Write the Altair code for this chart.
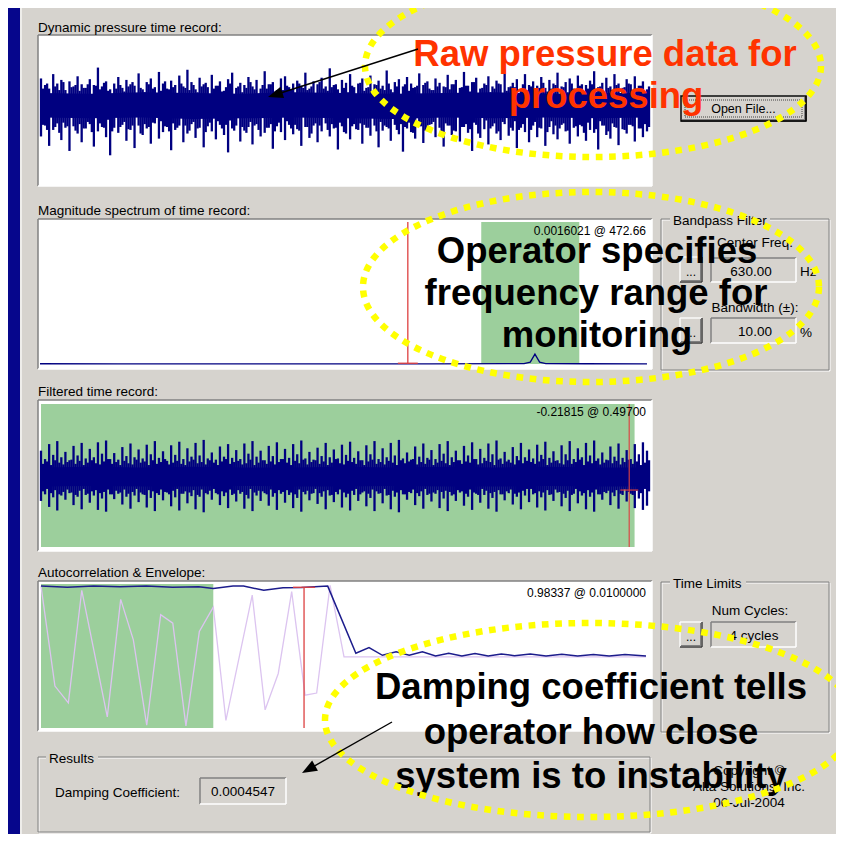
import math
import altair as alt
import pandas as pd

OFF = 8
W, H = 828, 826
FONT = "Liberation Sans"
BG = "#D6D3CE"
NAVY = "#000080"
GREEN = "#9CCF9C"
RED = "#DD4040"
YEL = "#FFFF00"

# ---------------- data ----------------
REC_LEN = 0.512  # s
# raw record: per-column peak (hi) and trough (lo), hundredths of full scale
raw_hi = [38,29,24,44,31,36,22,34,27,41,30,25,37,29,53,27,34,23,31,40,
          25,36,30,28,45,23,33,38,26,47,31,24,35,29,42,27,50,33,23,39,
          30,26,43,28,34,21,37,46,25,32,29,40,27,36,24,48,30,33,22,38,
          41,26,31,35,28,46,24,34,30,39,27,52,29,23,36,32,44,26,31,38,
          25,42,30,35,28,49,23,33,37,27,40,31,26,45,29,34,22,38,32,27,
          43,30,36,25,47,28,33,39,24,31,41,27,35,30,50,26,32,37,23,44,
          29,34,28,40,25,36,31,46,27,33,38,24,42,30,29,35,48,26,32,39,
          27,44,31,25,37,30,41,28,34,23]
raw_lo = [-42,-27,-55,-33,-24,-47,-30,-62,-28,-38,-50,-31,-25,-56,-35,-29,-43,-68,-30,-37,
          -26,-48,-33,-58,-27,-40,-31,-52,-24,-45,-36,-29,-61,-33,-27,-50,-38,-25,-44,-30,
          -57,-28,-35,-46,-26,-40,-64,-31,-27,-49,-34,-29,-53,-25,-42,-37,-30,-59,-28,-36,
          -47,-26,-39,-32,-55,-29,-44,-27,-50,-35,-24,-42,-31,-60,-28,-38,-46,-25,-33,-52,
          -30,-41,-27,-57,-34,-29,-48,-26,-39,-63,-31,-36,-45,-28,-51,-33,-25,-43,-30,-56,
          -27,-40,-35,-49,-29,-37,-62,-26,-44,-32,-53,-28,-38,-47,-25,-41,-34,-58,-30,-36,
          -50,-27,-43,-31,-55,-29,-39,-46,-26,-35,-52,-30,-42,-28,-48,-33,-37,-60,-27,-40,
          -45,-29,-54,-32,-38,-26,-49,-31,-43,-35]
# in-between columns
raw_hi2 = [24,31,12,27,22,33,10,26,29,21,25,30,13,28,23,32,21,11,24,29,
           20,27,33,14,25,19,30,24,10,21,34,23,26,12,31,25,22,29,19,27,
           32,11,24,28,20,26,31,13,27,19,25,33,23,10,29,24,30,20,12,22,
           28,23,14,31,25,22,27,11,33,24,21,26,30,13,25,19,28,10,32,21,
           26,12,29,24,22,31,19,27,11,30,21,25,28,14,32,24,22,27,10,26,
           23,30,13,26,28,20,33,11,25,29,19,24,31,12,21,27,26,14,30,22,
           27,10,25,32,20,24,29,13,26,19,31,23,28,11,24,30,20,27,12,25,
           22,29,14,26,31,10,24,28,20,27]
raw_lo2 = [-26,-33,-12,-29,-37,-23,-28,-11,-34,-25,-31,-22,-36,-13,-24,-30,-19,-35,-10,-29,
           -22,-32,-27,-12,-38,-25,-29,-23,-14,-21,-28,-35,-24,-30,-11,-27,-34,-22,-31,-13,
           -36,-23,-10,-21,-31,-26,-20,-34,-12,-29,-37,-22,-27,-33,-11,-30,-25,-35,-23,-14,
           -21,-31,-26,-34,-13,-29,-38,-24,-27,-10,-33,-25,-30,-23,-36,-12,-28,-32,-24,-26,
           -30,-11,-35,-22,-27,-31,-14,-33,-25,-29,-23,-37,-10,-28,-34,-26,-22,-13,-36,-24,
           -27,-34,-12,-29,-25,-32,-23,-38,-11,-20,-31,-24,-35,-22,-14,-30,-21,-33,-25,-10,
           -33,-22,-30,-13,-36,-21,-27,-31,-24,-34,-11,-28,-26,-37,-23,-12,-32,-21,-27,-35,
           -24,-30,-10,-33,-26,-28,-13,-31,-25,-29]
raw_core_hi = [18,17,19,18,17,19,18,17,18,19,17,18,18]
raw_core_lo = [-16,-17,-16,-18,-17,-16,-17,-18,-16,-17,-16,-17,-16]

filt_hi = [44,30,55,37,60,33,42,28,52,36,57,31,47,33,58,39,61,30,40,29,
           50,35,56,33,46,31,54,38,60,32,43,27,53,37,59,30,48,34,57,36,
           62,31,41,29,51,34,55,32,45,30,56,39,60,34,44,28,52,35,58,30,
           47,32,55,38,61,31,42,29,49,35,57,33,46,31,54,37,59,32,43,28,
           53,38,60,30,48,33,57,36,62,31,41,29,51,34,56,32,45,30,55,39,
           60,33,44,28,52,36,58,30,47,32,56,38,61,31,42,29,50,35,57,33,
           46,31,54,37,59,32,43,28,53,38,60,30,48,33,57,36,61,31,41,29,
           51,34,56,32,45,30,55,38,58,44]
filt_lo = [-40,-29,-50,-34,-56,-31,-38,-27,-47,-33,-54,-30,-43,-31,-55,-36,-58,-29,-37,-28,
           -46,-33,-53,-31,-42,-29,-51,-35,-57,-30,-39,-26,-49,-34,-56,-28,-44,-32,-54,-33,
           -59,-29,-38,-27,-47,-32,-52,-30,-41,-28,-53,-36,-57,-31,-40,-27,-48,-33,-55,-28,
           -43,-30,-52,-35,-58,-29,-39,-27,-45,-33,-54,-31,-42,-29,-51,-34,-56,-30,-40,-26,
           -49,-35,-57,-28,-44,-31,-54,-33,-59,-29,-38,-27,-47,-32,-53,-30,-41,-28,-52,-36,
           -57,-31,-40,-26,-48,-33,-55,-28,-43,-30,-53,-35,-58,-29,-39,-27,-46,-33,-54,-31,
           -42,-29,-51,-34,-56,-30,-40,-26,-49,-35,-57,-28,-44,-31,-54,-33,-58,-29,-38,-27,
           -47,-32,-53,-30,-41,-28,-52,-36,-55,-48]
filt_hi2 = [22,26,20,28,24,21,25,29,22,27,20,24,28,23,21,26,30,22,25,20,
            27,23,21,29,24,26,20,28,22,25,30,21,24,27,22,20,26,29,23,25,
            21,28,24,20,26,30,22,25,27,21,23,29,20,24,28,22,26,21,25,30,
            24,20,27,23,29,21,25,28,22,26,20,24,30,23,21,27,25,22,28,20,
            26,29,22,25,21,27,24,20,28,23,26,30,21,25,22,29,20,24,27,23,
            20,25,28,22,26,24,30,21,23,27,25,20,29,22,26,24,21,28,23,27,
            25,22,26,30,20,24,27,23,21,28,22,25,29,20,26,23,27,21,24,28,
            23,27,21,25,29,22,26,20,24,28]
filt_lo2 = [-24,-20,-27,-22,-29,-25,-21,-26,-30,-23,-20,-28,-24,-22,-27,-25,-21,-29,-23,-26,
            -21,-28,-25,-20,-26,-30,-22,-24,-27,-21,-25,-29,-23,-20,-28,-24,-26,-22,-30,-21,
            -27,-23,-20,-29,-24,-26,-21,-28,-22,-25,-30,-20,-26,-23,-24,-29,-21,-27,-22,-25,
            -22,-26,-29,-21,-25,-23,-28,-20,-27,-24,-22,-30,-25,-21,-26,-28,-23,-20,-29,-24,
            -28,-21,-24,-27,-20,-30,-23,-26,-22,-29,-25,-21,-27,-24,-20,-28,-26,-22,-25,-23,
            -25,-29,-22,-24,-28,-21,-26,-30,-20,-23,-27,-25,-22,-29,-24,-21,-28,-26,-23,-20,
            -20,-27,-24,-26,-22,-29,-21,-25,-28,-23,-30,-20,-24,-27,-22,-26,-21,-29,-25,-23,
            -26,-22,-28,-21,-25,-30,-23,-27,-20,-24]
filt_core_hi = [16,17,16,17,16,16,17,16,17,16,17,16,16]
filt_core_lo = [-16,-15,-16,-16,-15,-16,-16,-15,-16,-16,-15,-16,-16]
FILT_BAND = [0.0, 0.5015]
FILT_CURSOR_T, FILT_CURSOR_V = 0.497, -0.21815

spec_freq = [0, 100, 200, 300, 400, 500, 600, 622, 630, 636, 642, 650, 700, 780]
spec_mag = [0.0005, 0.0004, 0.0003, 0.0003, 0.0004, 0.0004, 0.0006, 0.0010,
            0.004, 0.021, 0.004, 0.001, 0.0005, 0.0004]
CENTER_FREQ, BANDWIDTH_PCT = 630.00, 10.00
SPEC_CURSOR_F, SPEC_CURSOR_V = 472.66, 0.0016021

ac_lag = [0, 0.53, 1.04, 1.55, 2.52, 3.03, 3.51, 4.02, 4.55, 5.01, 5.51, 6.02,
          6.55, 7.03, 8.03, 8.52, 9.02, 9.53, 10.04, 10.48, 10.99, 11.52, 23.0]
ac_val = [1.0, -0.43, -0.67, 0.94, -0.87, 0.81, 0.23, -0.99, 0.59, 0.47, -1.0, 0.35,
          0.70, -0.92, 0.87, -0.77, -0.25, 0.92, -0.56, -0.53, 1.01, -0.012, -0.012]
env_lag = [0, 1.0, 2.0, 3.0, 4.0, 5.0, 6.0, 6.55, 7.3, 7.7, 8.47, 9.2, 9.9, 10.9,
           11.97, 12.47, 12.98, 13.5, 14.0, 14.5, 15.0, 15.5, 16.0, 16.5, 17.0, 17.5,
           18.0, 18.6, 19.2, 19.8, 20.4, 21.0, 21.6, 22.2, 23.0]
env_val = [1.0, 0.985, 1.0, 0.99, 1.0, 0.985, 0.99, 0.965, 1.0, 1.0, 0.94, 0.975, 0.98, 1.0,
           0.04, 0.12, 0.01, 0.06, 0.01, 0.06, 0.0, 0.04, 0.0, 0.035, 0.0, 0.03,
           0.005, 0.03, 0.0, 0.025, 0.0, 0.02, 0.0, 0.02, 0.0]
AC_BAND = [0.0, 6.55]  # ms (time limits)
AC_CURSOR_LAG, AC_CURSOR_V = 10.0, 0.98337
DAMPING = "0.0004547"
NUM_CYCLES = 4

# ---------------- helpers ----------------
layers = []


def vx(v):
    return alt.value(v - OFF)


def rect(x0, y0, x1, y1, **mk):
    return alt.Chart().mark_rect(**mk).encode(x=vx(x0), x2=vx(x1), y=vx(y0), y2=vx(y1))


def seg(x0, y0, x1, y1, color, sw=1.0, dash=None):
    mk = dict(color=color, strokeWidth=sw)
    if dash is not None:
        mk["strokeDash"] = dash
    return alt.Chart().mark_rule(**mk).encode(x=vx(x0), x2=vx(x1), y=vx(y0), y2=vx(y1))


def label(x, y, s, size=13.5, align="left", weight="normal", color="#000000"):
    return alt.Chart().mark_text(text=s, font=FONT, fontSize=size, align=align,
                                 baseline="alphabetic", fontWeight=weight,
                                 color=color).encode(x=vx(x), y=vx(y))


def sunken(x0, y0, x1, y1, fill):
    return [rect(x0, y0, x1, y1, fill=fill),
            seg(x0, y0, x1, y0, "#808080", 1.5),
            seg(x0, y0, x0, y1, "#808080", 1.5),
            seg(x0, y1, x1, y1, "#FFFFFF", 1.5),
            seg(x1, y0, x1, y1, "#FFFFFF", 1.5)]


def button(x0, y0, x1, y1, text, size=12.5, base=None, default=False):
    L = [rect(x0, y0, x1, y1, fill=BG),
         seg(x0, y0, x1, y0, "#FFFFFF", 1.3), seg(x0, y0, x0, y1, "#FFFFFF", 1.3),
         seg(x0, y1, x1, y1, "#404040", 1.5), seg(x1, y0, x1, y1, "#404040", 1.5),
         seg(x0 + 1, y1 - 1.5, x1 - 1, y1 - 1.5, "#808080", 1),
         seg(x1 - 1.5, y0 + 1, x1 - 1.5, y1 - 1, "#808080", 1)]
    if default:
        L.append(rect(x0, y0, x1, y1, fillOpacity=0, stroke="#000000", strokeWidth=1.5))
        L.append(rect(x0 + 4, y0 + 4, x1 - 4, y1 - 4, fillOpacity=0, stroke="#404040",
                      strokeWidth=1, strokeDash=[1, 1]))
    L.append(label((x0 + x1) / 2, base if base else y1 - 7, text, size=size, align="center"))
    return L


def group(x0, y0, x1, y1, title, tx0, tx1):
    return [rect(x0 + 1, y0 + 1, x1 + 1, y1 + 1, fillOpacity=0, stroke="#FFFFFF", strokeWidth=1),
            rect(x0, y0, x1, y1, fillOpacity=0, stroke="#808080", strokeWidth=1),
            rect(tx0, y0 - 3, tx1, y0 + 3, fill=BG),
            label(tx0 + 3, y0 + 6, title)]


def sx(domain, r0, r1):
    return alt.Scale(domain=domain, range=[r0 - OFF, r1 - OFF], nice=False, zero=False)


def arrow(x0, y0, x1, y1, head=15.0, width=0.78):
    dx, dy = x1 - x0, y1 - y0
    d = math.hypot(dx, dy)
    ux, uy = dx / d, dy / d
    r = head / 2
    cx, cy = x1 - ux * r, y1 - uy * r
    ang = math.degrees(math.atan2(dy, dx)) % 360
    return [seg(x0, y0, cx, cy, "#000000", 1.4),
            alt.Chart().mark_point(shape=f"M 1 0 L -1 -{width} L -1 {width} Z",
                                   size=head ** 2, filled=True, color="#000000",
                                   opacity=1, angle=ang, strokeWidth=0
                                   ).encode(x=vx(cx), y=vx(cy))]


def ellipse(cx, cy, rx, ry):
    r = ry / rx
    k = 0.5523
    path = (f"M 1 0 C 1 {k*r:.4f} {k:.4f} {r:.4f} 0 {r:.4f} "
            f"C {-k:.4f} {r:.4f} -1 {k*r:.4f} -1 0 "
            f"C -1 {-k*r:.4f} {-k:.4f} {-r:.4f} 0 {-r:.4f} "
            f"C {k:.4f} {-r:.4f} 1 {-k*r:.4f} 1 0 Z")
    return alt.Chart().mark_point(shape=path, size=(2 * rx) ** 2, filled=False, color=YEL,
                                  opacity=1, strokeWidth=6.5, strokeDash=[6.7, 6.6],
                                  strokeCap="butt").encode(x=vx(cx), y=vx(cy))


def columns(hi, lo, hi2, lo2):
    n = len(hi)
    step = REC_LEN / (n - 1)
    t = [i * step for i in range(n)] + [(i + 0.5) * step for i in range(len(hi2))]
    return pd.DataFrame({"t": t,
                         "hi": [v / 100 for v in hi + hi2],
                         "lo": [v / 100 for v in lo + lo2]})


def core(hi, lo):
    m = len(hi)
    return pd.DataFrame({"t": [i * REC_LEN / (m - 1) for i in range(m)],
                         "hi": [v / 100 for v in hi], "lo": [v / 100 for v in lo]})


# ---------------- window chrome ----------------
layers.append(rect(0, 0, 20, 900, fill="#06068C"))
layers.append(seg(21, 0, 21, 900, "#EEEDEA", 2))

for (y0, y1, title, ty) in [(35, 186, "Dynamic pressure time record:", 32),
                            (219, 369, "Magnitude spectrum of time record:", 215),
                            (400, 551, "Filtered time record:", 396),
                            (581, 731, "Autocorrelation & Envelope:", 577)]:
    layers += sunken(38, y0, 652, y1, "#FFFFFF")
    layers.append(label(38, ty, title))

# ---------------- raw signal ----------------
xs_raw = sx([0, REC_LEN], 41, 647)
ys_raw = sx([-1.062, 0.938], 183, 38)
layers.append(alt.Chart(core(raw_core_hi, raw_core_lo)).mark_area(color=NAVY).encode(
    x=alt.X("t:Q", scale=xs_raw, axis=None), y=alt.Y("hi:Q", scale=ys_raw, axis=None), y2="lo:Q"))
layers.append(alt.Chart(columns(raw_hi, raw_lo, raw_hi2, raw_lo2)).mark_rule(
    color=NAVY, strokeWidth=2.3).encode(
    x=alt.X("t:Q", scale=xs_raw, axis=None), y=alt.Y("hi:Q", scale=ys_raw, axis=None), y2="lo:Q"))

# ---------------- spectrum ----------------
xs_s = sx([0, 780], 40, 647)
ys_s = sx([0, 0.3], 364, 222)
lo_f = CENTER_FREQ * (1 - BANDWIDTH_PCT / 100)
hi_f = CENTER_FREQ * (1 + BANDWIDTH_PCT / 100)
layers.append(alt.Chart(pd.DataFrame({"f0": [lo_f], "f1": [hi_f], "y0": [0.0], "y1": [0.3]}))
              .mark_rect(color=GREEN).encode(
    x=alt.X("f0:Q", scale=xs_s, axis=None), x2="f1:Q",
    y=alt.Y("y0:Q", scale=ys_s, axis=None), y2="y1:Q"))
layers.append(alt.Chart(pd.DataFrame({"f": spec_freq, "m": spec_mag})).mark_line(
    color=NAVY, strokeWidth=1.3).encode(
    x=alt.X("f:Q", scale=xs_s, axis=None), y=alt.Y("m:Q", scale=ys_s, axis=None)))
layers.append(alt.Chart(pd.DataFrame({"f": [SPEC_CURSOR_F], "y0": [0.0], "y1": [0.3]}))
              .mark_rule(color=RED, strokeWidth=1.3).encode(
    x=alt.X("f:Q", scale=xs_s, axis=None), y=alt.Y("y0:Q", scale=ys_s, axis=None), y2="y1:Q"))
layers.append(alt.Chart(pd.DataFrame({"f0": [SPEC_CURSOR_F - 12.8], "f1": [SPEC_CURSOR_F + 12.8],
                                      "y": [SPEC_CURSOR_V]}))
              .mark_rule(color=RED, strokeWidth=1.3).encode(
    x=alt.X("f0:Q", scale=xs_s, axis=None), x2="f1:Q", y=alt.Y("y:Q", scale=ys_s, axis=None)))
layers.append(label(646, 235, f"{SPEC_CURSOR_V:.7f} @ {SPEC_CURSOR_F:.2f}", size=12, align="right"))

# ---------------- filtered ----------------
xs_f = sx([0, REC_LEN], 41, 647)
ys_f = sx([-1.17, 1.22], 547, 404)
layers.append(alt.Chart(pd.DataFrame({"t0": [FILT_BAND[0]], "t1": [FILT_BAND[1]],
                                      "y0": [-1.17], "y1": [1.22]}))
              .mark_rect(color=GREEN).encode(
    x=alt.X("t0:Q", scale=xs_f, axis=None), x2="t1:Q",
    y=alt.Y("y0:Q", scale=ys_f, axis=None), y2="y1:Q"))
layers.append(alt.Chart(core(filt_core_hi, filt_core_lo)).mark_area(color=NAVY).encode(
    x=alt.X("t:Q", scale=xs_f, axis=None), y=alt.Y("hi:Q", scale=ys_f, axis=None), y2="lo:Q"))
layers.append(alt.Chart(columns(filt_hi, filt_lo, filt_hi2, filt_lo2)).mark_rule(
    color=NAVY, strokeWidth=2.3).encode(
    x=alt.X("t:Q", scale=xs_f, axis=None), y=alt.Y("hi:Q", scale=ys_f, axis=None), y2="lo:Q"))
layers.append(alt.Chart(pd.DataFrame({"t": [FILT_CURSOR_T], "y0": [-1.17], "y1": [1.22]}))
              .mark_rule(color=RED, strokeWidth=1.4, opacity=0.8).encode(
    x=alt.X("t:Q", scale=xs_f, axis=None), y=alt.Y("y0:Q", scale=ys_f, axis=None), y2="y1:Q"))
layers.append(alt.Chart(pd.DataFrame({"t0": [FILT_CURSOR_T - 0.0076], "t1": [FILT_CURSOR_T + 0.0076],
                                      "y": [FILT_CURSOR_V]}))
              .mark_rule(color=RED, strokeWidth=1.4, opacity=0.8).encode(
    x=alt.X("t0:Q", scale=xs_f, axis=None), x2="t1:Q", y=alt.Y("y:Q", scale=ys_f, axis=None)))
layers.append(label(646, 416, f"{FILT_CURSOR_V:.5f} @ {FILT_CURSOR_T:.5f}", size=12, align="right"))

# ---------------- autocorrelation ----------------
xs_a = sx([0, 23.0], 41, 646)
ys_a = sx([-1.03, 1.03], 728, 584)
layers.append(alt.Chart(pd.DataFrame({"l0": [AC_BAND[0]], "l1": [AC_BAND[1]],
                                      "y0": [-1.03], "y1": [1.03]}))
              .mark_rect(color=GREEN).encode(
    x=alt.X("l0:Q", scale=xs_a, axis=None), x2="l1:Q",
    y=alt.Y("y0:Q", scale=ys_a, axis=None), y2="y1:Q"))
layers.append(alt.Chart(pd.DataFrame({"l": ac_lag, "v": ac_val})).mark_line(
    color="#DCC4F0", strokeWidth=1.3).encode(
    x=alt.X("l:Q", scale=xs_a, axis=None), y=alt.Y("v:Q", scale=ys_a, axis=None)))
layers.append(alt.Chart(pd.DataFrame({"l": env_lag, "v": env_val})).mark_line(
    color="#1C1C8C", strokeWidth=1.5).encode(
    x=alt.X("l:Q", scale=xs_a, axis=None), y=alt.Y("v:Q", scale=ys_a, axis=None)))
layers.append(alt.Chart(pd.DataFrame({"l": [AC_CURSOR_LAG], "y0": [-1.03], "y1": [AC_CURSOR_V]}))
              .mark_rule(color=RED, strokeWidth=1.3).encode(
    x=alt.X("l:Q", scale=xs_a, axis=None), y=alt.Y("y0:Q", scale=ys_a, axis=None), y2="y1:Q"))
layers.append(alt.Chart(pd.DataFrame({"l0": [AC_CURSOR_LAG - 0.42], "l1": [AC_CURSOR_LAG + 0.42],
                                      "y": [AC_CURSOR_V]}))
              .mark_rule(color=RED, strokeWidth=1.3).encode(
    x=alt.X("l0:Q", scale=xs_a, axis=None), x2="l1:Q", y=alt.Y("y:Q", scale=ys_a, axis=None)))
layers.append(label(646, 597, f"{AC_CURSOR_V:.5f} @ {AC_CURSOR_LAG/1000:.7f}", size=12, align="right"))

# ---------------- controls ----------------
layers += button(681, 96, 806, 121, "Open File...", size=12.5, base=113, default=True)

layers += group(661, 219, 829, 370, "Bandpass Filter", 670, 770)
layers.append(label(755, 247, "Center Freq.", align="center"))
layers += button(680, 257, 702, 282, "...", size=12, base=276)
layers += sunken(711, 258, 796, 282, BG)
layers.append(label(751, 275.5, f"{CENTER_FREQ:.2f}", align="center"))
layers.append(label(800, 276, "Hz"))
layers.append(label(755, 312, "Bandwidth (\u00b1):", align="center"))
layers += button(680, 318, 702, 343, "...", size=12, base=337)
layers += sunken(711, 318, 796, 343, BG)
layers.append(label(755, 336, f"{BANDWIDTH_PCT:.2f}", align="center"))
layers.append(label(800, 337, "%"))

layers += group(661, 582, 829, 732, "Time Limits", 670, 746)
layers.append(label(750, 615, "Num Cycles:", align="center"))
layers += button(680, 622, 702, 647, "...", size=12, base=641)
layers += sunken(711, 622, 796, 647, BG)
layers.append(label(754, 640, f"{NUM_CYCLES} cycles", align="center"))

layers += group(38, 757, 650, 832, "Results", 46, 98)
layers.append(label(55, 797, "Damping Coefficient:"))
layers += sunken(200, 778, 286, 804, BG)
layers.append(label(243, 796, DAMPING, align="center"))

layers.append(label(749, 775, "Copyright \u00a9", align="center"))
layers.append(label(749, 791, "Alta Solutions, Inc.", align="center"))
layers.append(label(749, 807, "06-Jul-2004", align="center"))

# ---------------- annotations ----------------
BIG = 36.5
for (x, y, s, c) in [(605, 66, "Raw pressure data for", "#FF3300"),
                     (606, 108, "processing", "#FF3300"),
                     (597, 263, "Operator specifies", "#000000"),
                     (596, 305, "frequency range for", "#000000"),
                     (597, 347, "monitoring", "#000000"),
                     (591, 699, "Damping coefficient tells", "#000000"),
                     (591, 743.5, "operator how close", "#000000"),
                     (591, 788, "system is to instability", "#000000")]:
    layers.append(label(x, y, s, size=BIG, align="center", weight="bold", color=c))

layers.append(ellipse(593, 66, 228, 91))
layers.append(ellipse(591, 287, 228, 95))
layers.append(ellipse(590, 720, 265, 97))

layers += arrow(418, 49, 268, 97)
layers += arrow(392, 722, 302, 773)

chart = (alt.layer(*layers, data=pd.DataFrame({"d": [0]}))
         .resolve_scale(x="independent", y="independent")
         .properties(width=W, height=H, background=BG, padding=0,
                     autosize=alt.AutoSizeParams(type="none"))
         .configure_view(strokeWidth=0))

chart.save("out.html", embed_options={"renderer": "svg", "actions": False})
